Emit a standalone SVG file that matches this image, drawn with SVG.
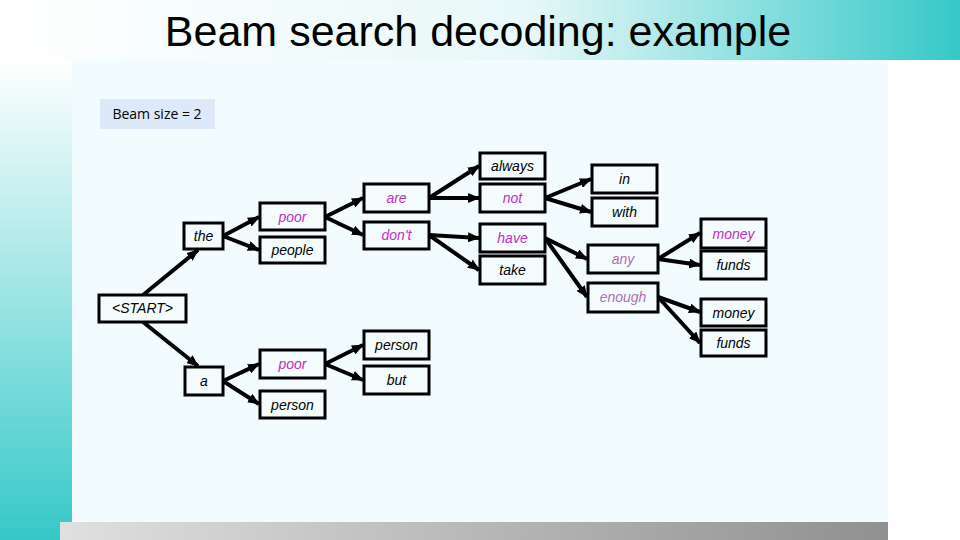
<svg xmlns="http://www.w3.org/2000/svg" width="960" height="540" viewBox="0 0 960 540">
<defs>
<linearGradient id="top" x1="0" y1="0" x2="1" y2="0"><stop offset="0" stop-color="#ffffff"/><stop offset="0.55" stop-color="#e8f8f8"/><stop offset="1" stop-color="#36c8c8"/></linearGradient>
<linearGradient id="left" x1="0" y1="0" x2="0" y2="1"><stop offset="0" stop-color="#ffffff"/><stop offset="1" stop-color="#36c8c8"/></linearGradient>
<linearGradient id="bot" x1="0" y1="0" x2="1" y2="0"><stop offset="0" stop-color="#e0e0e0"/><stop offset="1" stop-color="#909090"/></linearGradient>
<marker id="ah" markerUnits="userSpaceOnUse" markerWidth="12" markerHeight="10" refX="11" refY="5" orient="auto"><path d="M0,0 L12,5 L0,10 z" fill="#000"/></marker>
<style>
.b{fill:#f4fcfd;stroke:#000;stroke-width:3}
.t{font-family:"Liberation Sans",Arial,sans-serif;font-style:italic;font-size:14px;text-anchor:middle}
.k{fill:#000}.m{fill:#c030c0}.l{fill:#b070b0}
#edges line{stroke:#000;stroke-width:4;marker-end:url(#ah)}
</style>
</defs>
<rect width="960" height="540" fill="#ffffff"/>
<rect x="0" y="0" width="960" height="60" fill="url(#top)"/>
<rect x="0" y="60" width="72" height="480" fill="url(#left)"/>
<rect x="72" y="60" width="816" height="462" fill="#f2fbfd"/>
<rect x="60" y="522" width="828" height="18" fill="url(#bot)"/>
<text x="478" y="46" font-family="Liberation Sans,Arial,sans-serif" font-size="43" text-anchor="middle" fill="#000">Beam search decoding: example</text>
<g id="beam"><rect x="100" y="99" width="115" height="30" fill="#dde8f8"/><text x="157" y="119" font-family="Open Sans,sans-serif" font-size="14" text-anchor="middle">Beam size = 2</text></g>
<g id="edges">
<line x1="143" y1="295" x2="198" y2="250"/>
<line x1="143" y1="322" x2="198" y2="366"/>
<line x1="223" y1="236" x2="259" y2="217"/>
<line x1="223" y1="236" x2="259" y2="250"/>
<line x1="325" y1="217" x2="363" y2="198"/>
<line x1="325" y1="217" x2="363" y2="235"/>
<line x1="429" y1="198" x2="479" y2="166"/>
<line x1="429" y1="198" x2="479" y2="198"/>
<line x1="429" y1="235" x2="479" y2="238"/>
<line x1="429" y1="235" x2="479" y2="270"/>
<line x1="545" y1="198" x2="591" y2="179"/>
<line x1="545" y1="198" x2="591" y2="212"/>
<line x1="545" y1="238" x2="587" y2="259"/>
<line x1="545" y1="238" x2="587" y2="297"/>
<line x1="658" y1="259" x2="700" y2="233"/>
<line x1="658" y1="259" x2="700" y2="265"/>
<line x1="658" y1="297" x2="700" y2="312"/>
<line x1="658" y1="297" x2="700" y2="343"/>
<line x1="223" y1="381" x2="259" y2="364"/>
<line x1="223" y1="381" x2="259" y2="404"/>
<line x1="325" y1="364" x2="363" y2="345"/>
<line x1="325" y1="364" x2="363" y2="380"/>
</g>
<g id="start"><rect class="b" x="99" y="295" width="87" height="27"/><text class="t k" x="142.5" y="313">&lt;START&gt;</text></g>
<g id="the"><rect class="b" x="184" y="223" width="39" height="26"/><text class="t k" x="203.5" y="241">the</text></g>
<g id="a"><rect class="b" x="185" y="367" width="38" height="28"/><text class="t k" x="204" y="386">a</text></g>
<g id="poor1"><rect class="b" x="260" y="203" width="65" height="27"/><text class="t m" x="292.5" y="222">poor</text></g>
<g id="people"><rect class="b" x="260" y="237" width="65" height="26"/><text class="t k" x="292.5" y="255">people</text></g>
<g id="poor2"><rect class="b" x="260" y="350" width="65" height="28"/><text class="t m" x="292.5" y="369">poor</text></g>
<g id="person1"><rect class="b" x="260" y="391" width="65" height="27"/><text class="t k" x="292.5" y="410">person</text></g>
<g id="are"><rect class="b" x="364" y="184" width="65" height="28"/><text class="t m" x="396.5" y="203">are</text></g>
<g id="dont"><rect class="b" x="364" y="222" width="65" height="27"/><text class="t m" x="396.5" y="240">don't</text></g>
<g id="person2"><rect class="b" x="364" y="331" width="65" height="28"/><text class="t k" x="396.5" y="350">person</text></g>
<g id="but"><rect class="b" x="364" y="366" width="65" height="28"/><text class="t k" x="396.5" y="385">but</text></g>
<g id="always"><rect class="b" x="480" y="153" width="65" height="26"/><text class="t k" x="512.5" y="171">always</text></g>
<g id="not"><rect class="b" x="480" y="184" width="65" height="28"/><text class="t m" x="512.5" y="203">not</text></g>
<g id="have"><rect class="b" x="480" y="224" width="65" height="28"/><text class="t m" x="512.5" y="243">have</text></g>
<g id="take"><rect class="b" x="480" y="256" width="65" height="28"/><text class="t k" x="512.5" y="275">take</text></g>
<g id="in"><rect class="b" x="592" y="165" width="65" height="28"/><text class="t k" x="624.5" y="184">in</text></g>
<g id="with"><rect class="b" x="592" y="198" width="65" height="28"/><text class="t k" x="624.5" y="217">with</text></g>
<g id="any"><rect class="b" x="588" y="245" width="70" height="28"/><text class="t l" x="623" y="264">any</text></g>
<g id="enough"><rect class="b" x="588" y="283" width="70" height="29"/><text class="t l" x="623" y="302">enough</text></g>
<g id="money1"><rect class="b" x="701" y="219" width="65" height="29"/><text class="t m" x="733.5" y="239">money</text></g>
<g id="funds1"><rect class="b" x="701" y="251" width="65" height="28"/><text class="t k" x="733.5" y="270">funds</text></g>
<g id="money2"><rect class="b" x="701" y="299" width="65" height="27"/><text class="t k" x="733.5" y="318">money</text></g>
<g id="funds2"><rect class="b" x="701" y="330" width="65" height="26"/><text class="t k" x="733.5" y="348">funds</text></g>
</svg>
